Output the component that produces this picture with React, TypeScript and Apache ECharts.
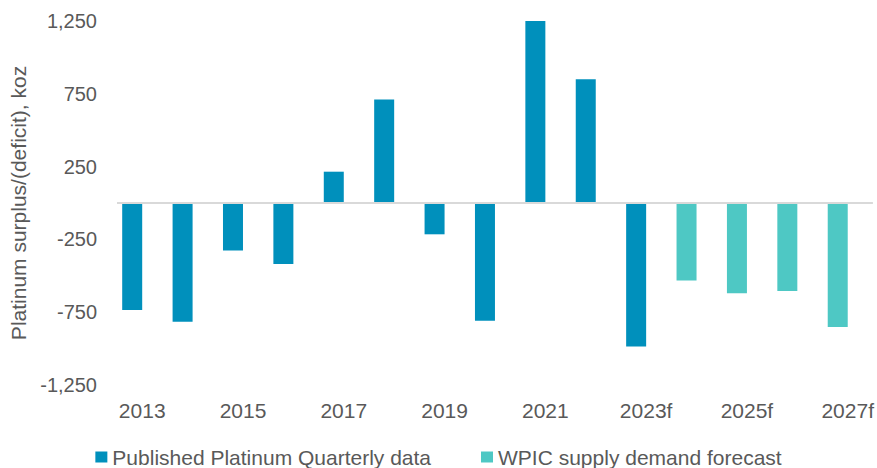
import React, { useEffect, useRef } from "react";
import * as echarts from "echarts";

const categories = [
  "2013", "2014", "2015", "2016", "2017", "2018", "2019", "2020",
  "2021", "2022", "2023f", "2024f", "2025f", "2026f", "2027f",
];
const publishedValues: (number | string)[] = [
  -735, -815, -327, -419, 215, 710, -215, -808, 1250, 850, -985, "-", "-", "-", "-",
];
const forecastValues: (number | string)[] = [
  "-", "-", "-", "-", "-", "-", "-", "-", "-", "-", "-", -533, -620, -604, -852,
];
const emptyValues: (number | string)[] = categories.map(() => "-");
const yTicks = { min: -1250, max: 1250, interval: 500 };
const seriesNames = ["Published Platinum Quarterly data", "WPIC supply demand forecast"];
const yAxisName = "Platinum surplus/(deficit), koz";

const FONT = "'Liberation Sans', Arial, sans-serif";
const TEXT = "#595959";

export default function App() {
  const ref = useRef<HTMLDivElement>(null);
  useEffect(() => {
    if (!ref.current) return;
    const chart = echarts.init(ref.current, undefined, { renderer: "svg" });
    chart.setOption({
      animation: false,
      textStyle: { fontFamily: FONT },
      grid: { left: 117, right: 4, top: 21, bottom: 83, containLabel: false },
      legend: {
        data: seriesNames,
        top: 445,
        left: "center",
        padding: 0,
        itemWidth: 12,
        itemHeight: 11,
        itemGap: 50,
        icon: "rect",
        textStyle: { fontSize: 21, color: TEXT, fontFamily: FONT, lineHeight: 24 },
      },
      xAxis: {
        type: "category",
        data: categories,
        axisLine: { show: false, onZero: false },
        axisTick: { show: false },
        axisLabel: { interval: 1, fontSize: 21, color: TEXT, margin: 15, fontFamily: FONT },
      },
      yAxis: {
        type: "value",
        min: yTicks.min,
        max: yTicks.max,
        interval: yTicks.interval,
        splitLine: { show: false },
        axisLine: { show: false },
        axisTick: { show: false },
        axisLabel: {
          fontSize: 20,
          color: TEXT,
          margin: 20,
          fontFamily: FONT,
          formatter: (v: number) => v.toLocaleString("en-US"),
        },
        name: yAxisName,
        nameLocation: "middle",
        nameGap: 84,
        nameTextStyle: { fontSize: 21, color: TEXT, fontFamily: FONT },
      },
      series: [
        {
          name: seriesNames[0],
          type: "bar",
          stack: "a",
          data: publishedValues,
          barWidth: 20,
          barGap: "0%",
          itemStyle: { color: "#0090BC" },
          markLine: {
            silent: true,
            symbol: "none",
            label: { show: false },
            lineStyle: { color: "#D9D9D9", width: 2, type: "solid" },
            data: [{ yAxis: 0 }],
          },
        },
        {
          name: seriesNames[1],
          type: "bar",
          stack: "a",
          data: forecastValues,
          barWidth: 20,
          itemStyle: { color: "#4EC8C4" },
        },
        {
          name: "spacer",
          type: "bar",
          data: emptyValues,
          barWidth: 20,
          barGap: "0%",
        },
      ],
    });
    return () => chart.dispose();
  }, []);
  return (
    <div
      ref={ref}
      style={{ position: "fixed", left: 0, top: 0, width: 877, height: 468, background: "#fff" }}
    />
  );
}
